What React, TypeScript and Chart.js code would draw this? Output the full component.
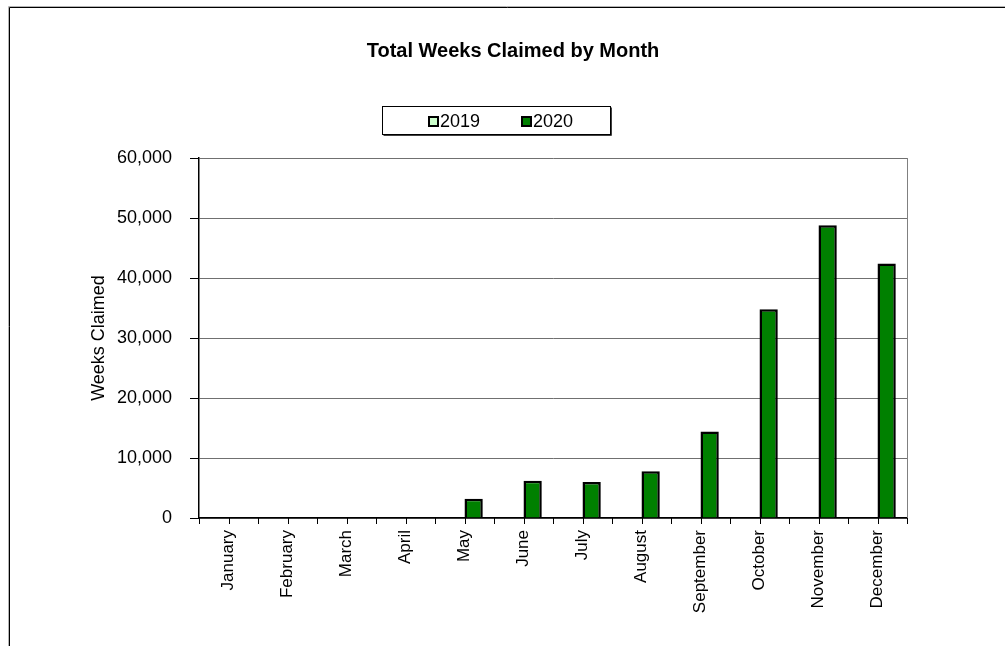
import { useEffect, useRef } from "react";
import { Chart, registerables } from "chart.js";

Chart.register(...registerables);

const months = [
  "January", "February", "March", "April", "May", "June",
  "July", "August", "September", "October", "November", "December",
];
const label2019 = "2019";
const label2020 = "2020";
const values2019 = [0, 0, 0, 0, 0, 0, 0, 0, 0, 0, 0, 0];
const values2020 = [0, 0, 0, 0, 3200, 6200, 6000, 7800, 14400, 34800, 48800, 42400];
const yMin = 0;
const yMax = 60000;
const yStep = 10000;
const chartTitle = "Total Weeks Claimed by Month";
const yAxisTitle = "Weeks Claimed";

const FONT = "'Liberation Sans', Arial, Helvetica, sans-serif";
const W = 1005;
const H = 646;

const decorPlugin = {
  id: "decor",
  beforeDraw(chart: any) {
    const { ctx, width, height } = chart;
    ctx.save();
    ctx.fillStyle = "#ffffff";
    ctx.fillRect(0, 0, width, height);
    ctx.lineWidth = 1;
    ctx.strokeStyle = "#b4b4b4";
    ctx.beginPath();
    ctx.moveTo(8.5, height);
    ctx.lineTo(8.5, 6.5);
    ctx.lineTo(width, 6.5);
    ctx.stroke();
    ctx.strokeStyle = "#000000";
    ctx.beginPath();
    ctx.moveTo(9.5, height);
    ctx.lineTo(9.5, 7.5);
    ctx.lineTo(width, 7.5);
    ctx.stroke();
    ctx.restore();
  },
  afterDraw(chart: any) {
    const { ctx, chartArea } = chart;
    const xScale = chart.scales.x;
    ctx.save();
    ctx.strokeStyle = "#808080";
    ctx.lineWidth = 1;
    ctx.beginPath();
    ctx.moveTo(Math.round(chartArea.right) + 0.5, chartArea.top);
    ctx.lineTo(Math.round(chartArea.right) + 0.5, chartArea.bottom);
    ctx.stroke();

    const n = chart.data.labels.length;
    const half = (xScale.getPixelForValue(1) - xScale.getPixelForValue(0)) / 2;
    ctx.strokeStyle = "#000000";
    ctx.lineWidth = 1;
    for (let i = 0; i < n; i++) {
      const c = xScale.getPixelForValue(i);
      for (const x of [c - half, c, c + half]) {
        const px = Math.round(x) + 0.5;
        ctx.beginPath();
        ctx.moveTo(px, chartArea.bottom);
        ctx.lineTo(px, chartArea.bottom + 6);
        ctx.stroke();
      }
    }

    ctx.fillStyle = "#000000";
    ctx.font = `bold 20px ${FONT}`;
    ctx.textAlign = "center";
    ctx.textBaseline = "alphabetic";
    ctx.fillText(chartTitle, 513, 57);

    const bx = 382.5, by = 106.5, bw = 228, bh = 28;
    ctx.fillStyle = "#ffffff";
    ctx.fillRect(bx, by, bw, bh);
    ctx.strokeStyle = "#000000";
    ctx.lineWidth = 1;
    ctx.strokeRect(bx, by, bw, bh);
    ctx.strokeStyle = "#404040";
    ctx.beginPath();
    ctx.moveTo(bx + 1, by + bh + 1);
    ctx.lineTo(bx + bw + 1, by + bh + 1);
    ctx.lineTo(bx + bw + 1, by + 1);
    ctx.stroke();

    ctx.font = `18px ${FONT}`;
    ctx.textAlign = "left";
    ctx.textBaseline = "middle";
    const items = chart.data.datasets;
    const starts = [428, 521];
    items.forEach((ds: any, i: number) => {
      const x0 = starts[i];
      const cy = 121.5;
      ctx.fillStyle = ds.backgroundColor;
      ctx.fillRect(x0, cy - 5.5, 11, 11);
      ctx.strokeStyle = "#000000";
      ctx.lineWidth = 2;
      ctx.strokeRect(x0 + 1, cy - 4.5, 9, 9);
      ctx.fillStyle = "#000000";
      ctx.fillText(ds.label, x0 + 12, cy + 1);
    });
    ctx.restore();
  },
};

export default function App() {
  const ref = useRef<HTMLCanvasElement>(null);

  useEffect(() => {
    document.body.style.margin = "0";
    const canvas = ref.current;
    if (!canvas) return;
    const chart = new Chart(canvas, {
      type: "bar",
      data: {
        labels: months,
        datasets: [
          {
            label: label2019,
            data: values2019,
            backgroundColor: "#ccffcc",
            borderColor: "#000000",
            borderWidth: 2.5,
            categoryPercentage: 0.62,
            barPercentage: 1.0,
          },
          {
            label: label2020,
            data: values2020,
            backgroundColor: "#008000",
            borderColor: "#000000",
            borderWidth: 2.5,
            categoryPercentage: 0.62,
            barPercentage: 1.0,
          },
        ],
      },
      options: {
        responsive: false,
        animation: false,
        devicePixelRatio: 1,
        layout: { padding: { left: 88, right: 98, top: 158, bottom: 0 } },
        plugins: {
          legend: { display: false },
          title: { display: false },
          tooltip: { enabled: false },
        },
        scales: {
          x: {
            grid: { drawOnChartArea: false, drawTicks: false },
            border: { display: true, color: "#000000", width: 1.5 },
            ticks: {
              color: "#000000",
              font: { family: FONT, size: 17 },
              maxRotation: 90,
              minRotation: 90,
              autoSkip: false,
              padding: 12,
            },
            afterFit: (scale: any) => {
              scale.height = 128;
            },
          },
          y: {
            min: yMin,
            max: yMax,
            grid: {
              color: "#707070",
              lineWidth: 1,
              tickLength: 9,
              tickColor: "#000000",
            },
            border: { display: true, color: "#000000", width: 1.5 },
            ticks: {
              stepSize: yStep,
              color: "#000000",
              padding: 18,
              font: { family: FONT, size: 18 },
              callback: (v: any) => Number(v).toLocaleString("en-US"),
            },
            title: {
              display: true,
              text: yAxisTitle,
              color: "#000000",
              font: { family: FONT, size: 18 },
              padding: { top: 0, bottom: 0 },
            },
            afterFit: (scale: any) => {
              scale.width = 111;
            },
          },
        },
      },
      plugins: [decorPlugin],
    });
    return () => chart.destroy();
  }, []);

  return (
    <div style={{ width: W, height: H }}>
      <canvas ref={ref} width={W} height={H} style={{ display: "block", width: W, height: H }} />
    </div>
  );
}
